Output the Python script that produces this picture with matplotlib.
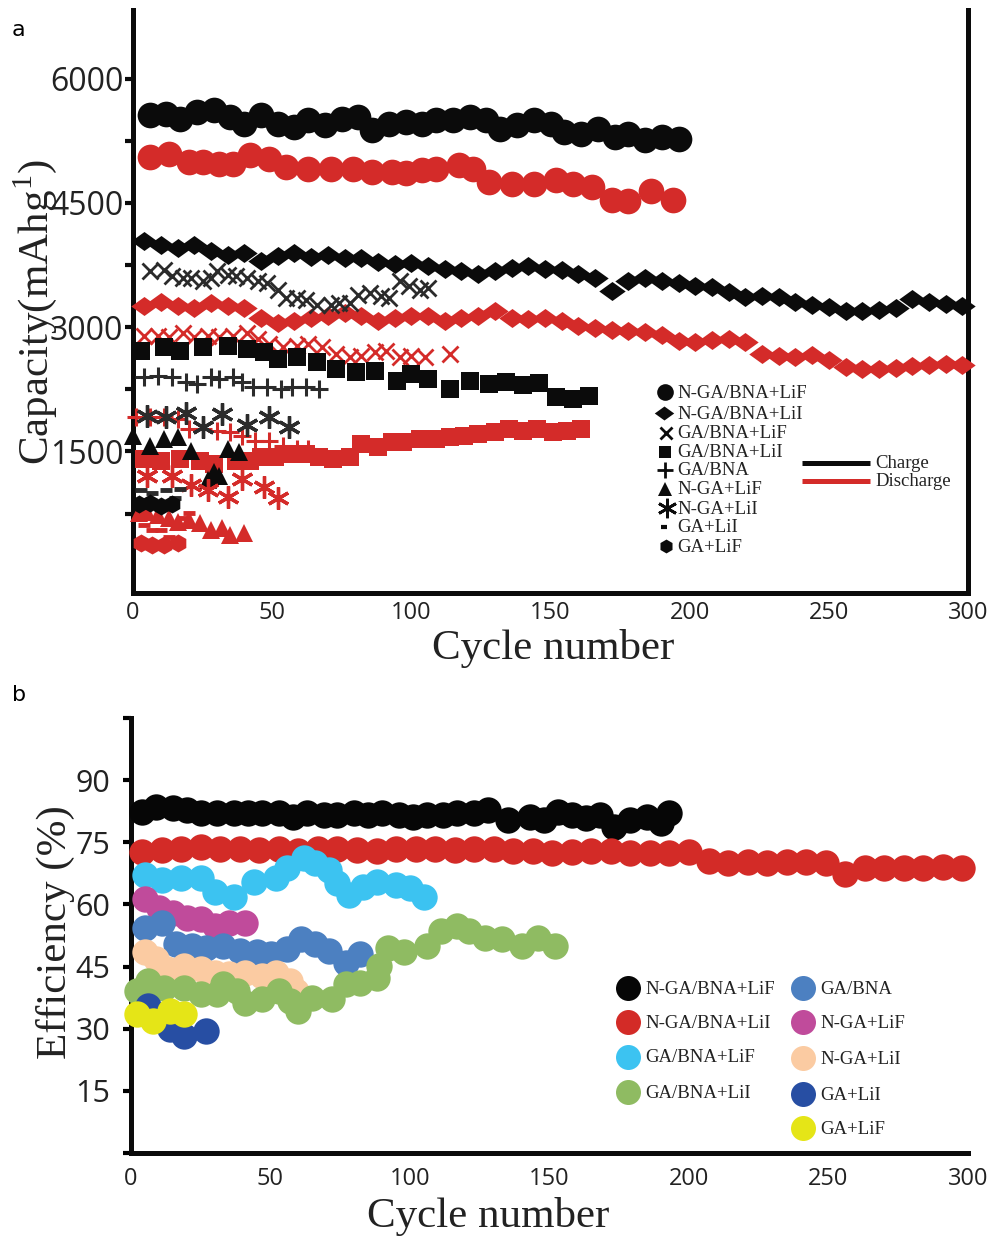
import matplotlib
matplotlib.use("Agg")
import matplotlib.pyplot as plt
from matplotlib.lines import Line2D
from matplotlib.path import Path

plt.rcParams['mathtext.fontset'] = 'custom'
plt.rcParams['mathtext.rm'] = 'Liberation Serif'

# ---------------- Panel a data (capacity, mAh/g) ----------------
circ_c_cyc = [6, 12, 17, 23, 29, 35, 40, 46, 52, 58, 63, 69, 75, 81, 86, 92, 98, 104, 109, 115,
              121, 127, 132, 138, 144, 150, 155, 161, 167, 173, 178, 184, 190, 196]
circ_c_val = [5562, 5574, 5514, 5599, 5623, 5538, 5453, 5562, 5453, 5416, 5501, 5441, 5514, 5538,
              5380, 5453, 5477, 5453, 5501, 5501, 5538, 5501, 5392, 5441, 5501, 5453, 5356, 5331,
              5392, 5295, 5331, 5258, 5295, 5270]
circ_d_cyc = [6, 13, 20, 25, 31, 36, 42, 49, 55, 63, 71, 79, 86, 93, 98, 104, 109, 117, 122, 128,
              136, 144, 152, 158, 165, 172, 178, 186, 194]
circ_d_val = [5052, 5088, 4991, 4991, 4966, 4966, 5076, 5027, 4930, 4906, 4906, 4906, 4869, 4869,
              4857, 4893, 4906, 4954, 4906, 4748, 4723, 4723, 4772, 4723, 4687, 4541, 4529, 4650, 4541]

diam_cyc = [4, 10, 16, 22, 28, 34, 40, 46, 52, 58, 64, 70, 76, 82, 88, 94, 100, 106, 112, 118,
            124, 130, 136, 142, 148, 154, 160, 166, 172, 178, 184, 190, 196, 202, 208, 214, 220,
            226, 232, 238, 244, 250, 256, 262, 268, 274, 280, 286, 292, 298]
diam_c_val = [4040, 3990, 3960, 3990, 3920, 3870, 3900, 3800, 3860, 3890, 3850, 3870, 3830, 3840,
              3790, 3760, 3780, 3740, 3700, 3680, 3640, 3680, 3720, 3740, 3700, 3690, 3640, 3590,
              3440, 3560, 3590, 3560, 3530, 3500, 3480, 3420, 3360, 3380, 3370, 3300, 3270, 3240,
              3190, 3200, 3210, 3230, 3340, 3300, 3280, 3260]
diam_d_val = [3260, 3310, 3250, 3230, 3290, 3250, 3230, 3110, 3050, 3080, 3110, 3140, 3170, 3130,
              3080, 3110, 3130, 3140, 3080, 3110, 3140, 3190, 3110, 3100, 3110, 3080, 3020, 2990,
              2960, 2950, 2940, 2900, 2830, 2820, 2840, 2860, 2820, 2680, 2650, 2640, 2660, 2600,
              2520, 2500, 2490, 2510, 2530, 2540, 2560, 2540]

x_c_cyc = [6, 11, 14, 18, 21, 25, 28, 30, 34, 37, 41, 45, 48, 52, 55, 59, 62, 66, 71, 74, 78, 81,
           85, 89, 92, 96, 99, 103, 106]
x_c_val = [3677, 3690, 3617, 3592, 3592, 3556, 3592, 3677, 3629, 3617, 3592, 3556, 3532, 3446,
           3349, 3349, 3325, 3264, 3264, 3288, 3288, 3386, 3410, 3373, 3349, 3556, 3495, 3446, 3471]
x_d_cyc = [4, 9, 13, 18, 22, 27, 31, 36, 41, 45, 49, 54, 59, 63, 68, 73, 78, 82, 87, 91, 96, 100,
           105, 114]
x_d_val = [2899, 2899, 2887, 2924, 2880, 2899, 2887, 2899, 2924, 2863, 2802, 2765, 2778, 2802,
           2765, 2680, 2644, 2656, 2705, 2717, 2644, 2656, 2644, 2680]

sq_c_cyc = [3, 11, 17, 25, 34, 41, 47, 52, 59, 66, 73, 80, 87, 95, 100, 106, 114, 121, 128, 134,
            140, 146, 152, 158, 164]
sq_c_val = [2717, 2766, 2717, 2766, 2778, 2741, 2705, 2620, 2644, 2583, 2498, 2461, 2474, 2352,
            2437, 2376, 2255, 2352, 2316, 2340, 2303, 2328, 2158, 2133, 2170]
sq_d_cyc = [4, 10, 17, 24, 29, 37, 42, 46, 51, 56, 62, 67, 72, 78, 82, 88, 93, 97, 103, 109, 114,
            119, 124, 130, 135, 140, 145, 151, 156, 161]
sq_d_val = [1404, 1379, 1404, 1379, 1343, 1379, 1379, 1428, 1428, 1464, 1464, 1428, 1404, 1428,
            1586, 1550, 1610, 1610, 1647, 1647, 1671, 1683, 1708, 1732, 1768, 1744, 1768, 1732,
            1744, 1768]

p_c_cyc = [4, 9, 14, 19, 23, 28, 31, 36, 39, 43, 48, 53, 57, 62, 67]
p_c_val = [2401, 2413, 2401, 2340, 2316, 2401, 2376, 2401, 2340, 2279, 2279, 2255, 2279, 2279, 2255]
p_d_cyc = [1, 6, 11, 16, 20, 25, 30, 35, 39, 44, 49, 54, 59, 63]
p_d_val = [1914, 1914, 1914, 1890, 1768, 1768, 1744, 1732, 1683, 1622, 1622, 1562, 1525, 1525]

t_c_cyc = [0, 6, 11, 16, 21, 27, 29, 31, 34, 38]
t_c_val = [1680, 1560, 1650, 1670, 1500, 1160, 1250, 1200, 1525, 1490]
t_d_cyc = [2, 5, 9, 13, 16, 20, 24, 28, 32, 35, 40]
t_d_val = [759, 771, 735, 698, 650, 674, 637, 552, 577, 491, 516]

ast_c_cyc = [5, 12, 19, 25, 32, 41, 49, 56]
ast_c_val = [1926, 1914, 1963, 1793, 1951, 1817, 1914, 1793]
ast_d_cyc = [5, 14, 21, 27, 34, 39, 47, 52]
ast_d_val = [1197, 1197, 1100, 1039, 954, 1161, 1075, 942]

dash_c_cyc = [3, 7, 12, 15, 17]
dash_c_val = [1039, 1002, 1039, 942, 1051]
dash_d_cyc = [4, 7, 10, 13, 18, 20]
dash_d_val = [613, 552, 552, 467, 698, 759]

hex_c_cyc = [2, 6, 10, 14]
hex_c_val = [870, 880, 840, 860]
hex_d_cyc = [3, 7, 11, 16]
hex_d_val = [394, 370, 370, 394]

a_labels = ["N-GA/BNA+LiF", "N-GA/BNA+LiI", "GA/BNA+LiF", "GA/BNA+LiI", "GA/BNA",
            "N-GA+LiF", "N-GA+LiI", "GA+LiI", "GA+LiF"]
a_yticks = [1500, 3000, 4500, 6000]
a_minor = [750, 2250, 3750, 5250]
x_ticks = [0, 50, 100, 150, 200, 250, 300]

# ---------------- Panel b data (efficiency, %) ----------------
b_labels = ["N-GA/BNA+LiF", "N-GA/BNA+LiI", "GA/BNA+LiF", "GA/BNA+LiI", "GA/BNA",
            "N-GA+LiF", "N-GA+LiI", "GA+LiI", "GA+LiF"]
b_colors = ["#060606", "#d32b27", "#3cc3f1", "#8fbb62", "#4c80c1",
            "#c04b9b", "#fbcba2", "#274ea3", "#e5e517"]

b_black_cyc = [4, 9, 15, 20, 25, 31, 37, 42, 47, 53, 58, 63, 69, 74, 80, 85, 90, 96, 101, 106,
               112, 117, 123, 128, 135, 143, 148, 153, 158, 163, 168, 173, 179, 185, 190, 193]
b_black_val = [82.3, 83.5, 83.2, 82.7, 82.0, 82.0, 82.0, 82.0, 82.0, 82.0, 81.0, 82.0, 81.5, 81.5,
               82.0, 81.5, 82.0, 81.5, 81.0, 81.5, 81.5, 82.0, 82.0, 82.7, 80.3, 81.0, 80.3, 82.3,
               81.5, 80.8, 81.5, 78.6, 80.3, 81.0, 79.6, 82.0]
b_red_cyc = [4, 11, 18, 25, 32, 39, 46, 53, 60, 67, 74, 81, 88, 95, 102, 109, 116, 123, 130, 137,
             144, 151, 158, 165, 172, 179, 186, 193, 200, 207, 214, 221, 228, 235, 242, 249, 256,
             263, 270, 277, 284, 291, 298]
b_red_val = [72.6, 73.2, 73.5, 73.8, 73.5, 73.3, 73.2, 73.3, 73.0, 73.4, 73.5, 73.2, 73.0, 73.4,
             73.5, 73.3, 73.2, 73.4, 73.5, 73.0, 72.8, 72.5, 72.6, 73.0, 72.8, 72.4, 72.4, 72.5,
             72.6, 70.5, 70.0, 70.3, 70.0, 70.2, 70.3, 70.0, 67.3, 68.8, 68.8, 68.9, 68.8, 69.0, 68.8]
b_lb_cyc = [5, 11, 18, 25, 30, 37, 44, 52, 56, 62, 66, 71, 74, 78, 83, 88, 95, 100, 105]
b_lb_val = [67.0, 65.8, 66.3, 66.3, 62.9, 61.7, 65.3, 66.3, 68.9, 71.1, 69.9, 68.2, 65.1, 62.2,
            64.1, 65.3, 64.6, 63.9, 61.7]
b_gr_cyc = [2, 6, 12, 19, 25, 31, 33, 38, 41, 47, 53, 57, 60, 65, 72, 77, 82, 88, 89, 92, 98, 106,
            111, 117, 121, 127, 133, 140, 146, 152]
b_gr_val = [39.2, 41.6, 39.9, 39.9, 38.4, 38.4, 40.8, 39.2, 36.2, 37.2, 39.2, 36.7, 34.3, 37.5,
            37.2, 40.8, 41.0, 42.3, 45.2, 49.6, 48.4, 50.0, 53.7, 54.9, 53.7, 52.0, 51.7, 50.0,
            52.0, 50.0]
b_mb_cyc = [5, 11, 16, 22, 27, 33, 39, 45, 50, 56, 61, 66, 71, 77, 82]
b_mb_val = [54.4, 55.4, 50.5, 50.0, 49.6, 50.0, 48.8, 48.4, 48.1, 49.3, 51.7, 50.5, 48.8, 45.9, 48.1]
b_mg_cyc = [5, 10, 15, 20, 25, 30, 35, 41]
b_mg_val = [61.4, 59.2, 58.0, 56.8, 56.6, 54.9, 55.6, 55.6]
b_pc_cyc = [5, 9, 13, 19, 25, 30, 35, 41, 47, 52, 57, 59]
b_pc_val = [48.4, 46.9, 44.5, 45.2, 44.5, 43.5, 43.3, 43.5, 42.8, 43.5, 41.6, 39.2]
b_db_cyc = [6, 14, 19, 27]
b_db_val = [35.5, 30.0, 28.3, 29.5]
b_yl_cyc = [2, 8, 14, 19]
b_yl_val = [33.6, 31.9, 34.3, 33.6]
b_yticks = [0, 15, 30, 45, 60, 75, 90, 105]
b_yticklabels = ["", "15", "30", "45", "60", "75", "90", ""]

# ---------------- styles ----------------
BLACK = "#0b0b0b"
RED = "#d42b29"
GRAY = "#2b2b2b"
SERIF = "Liberation Serif"
SANS = "Open Sans"

flat_diamond = Path([(-1, 0), (0, 0.72), (1, 0), (0, -0.72), (-1, 0)],
                    [Path.MOVETO, Path.LINETO, Path.LINETO, Path.LINETO, Path.CLOSEPOLY])
asterisk = (6, 2, 0)

W, H = 989, 1236
fig = plt.figure(figsize=(W / 100, H / 100), dpi=100)


def fpos(x, y):
    return x / W, 1 - y / H


# ---------------- Panel a ----------------
ax = fig.add_axes([133 / W, 1 - 593 / H, (968 - 133) / W, (593 - 10) / H])
ax.set_xlim(0, 300)
ax.set_ylim(-210, 6830)


def mk(axis, xs, ys, color, marker, ms, mew=0, z=3, fill=True):
    if fill:
        axis.plot(xs, ys, ls='none', marker=marker, ms=ms, color=color, mec=color,
                  mew=mew, zorder=z, clip_on=False)
    else:
        axis.plot(xs, ys, ls='none', marker=marker, ms=ms, color=color, mew=mew,
                  zorder=z, clip_on=False)


mk(ax, circ_c_cyc, circ_c_val, BLACK, 'o', 18.5)
mk(ax, circ_d_cyc, circ_d_val, RED, 'o', 18.5)
mk(ax, diam_cyc, diam_c_val, BLACK, flat_diamond, 19)
mk(ax, diam_cyc, diam_d_val, RED, flat_diamond, 19)
mk(ax, x_c_cyc, x_c_val, GRAY, 'x', 12, mew=2.0, fill=False)
mk(ax, x_d_cyc, x_d_val, RED, 'x', 12, mew=2.0, fill=False)
mk(ax, sq_c_cyc, sq_c_val, BLACK, 's', 13)
mk(ax, sq_d_cyc, sq_d_val, RED, 's', 13)
mk(ax, p_c_cyc, p_c_val, GRAY, '+', 13, mew=2.2, fill=False)
mk(ax, p_d_cyc, p_d_val, RED, '+', 13, mew=2.2, fill=False)
mk(ax, t_c_cyc, t_c_val, BLACK, '^', 12.5)
mk(ax, t_d_cyc, t_d_val, RED, '^', 12.5)
mk(ax, ast_c_cyc, ast_c_val, GRAY, asterisk, 16, mew=2.4, fill=False)
mk(ax, ast_d_cyc, ast_d_val, RED, asterisk, 16, mew=2.4, fill=False)
mk(ax, dash_c_cyc, dash_c_val, GRAY, '_', 8, mew=3.5, fill=False)
mk(ax, dash_d_cyc, dash_d_val, RED, '_', 8, mew=3.5, fill=False)
mk(ax, hex_c_cyc, hex_c_val, BLACK, 'h', 13)
mk(ax, hex_d_cyc, hex_d_val, RED, 'h', 13)

for s in ['left', 'bottom', 'right']:
    ax.spines[s].set_linewidth(3.6)
    ax.spines[s].set_color(BLACK)
ax.spines['top'].set_visible(False)
ax.set_yticks(a_yticks)
ax.set_yticklabels([str(v) for v in a_yticks])
ax.set_yticks(a_minor, minor=True)
ax.set_xticks(x_ticks)
ax.set_xticklabels([str(v) for v in x_ticks])
ax.tick_params(axis='y', which='both', direction='out', length=6, width=3, pad=1,
               labelsize=23, colors=BLACK)
ax.tick_params(axis='x', direction='out', length=0, pad=6, labelsize=17, colors=BLACK)
for lab in ax.get_yticklabels() + ax.get_xticklabels():
    lab.set_fontfamily(SANS)
    lab.set_color('#222222')

fig.text(*fpos(35, 312), "Capacity(mAhg$^{\\mathrm{1}}$)", rotation=90, ha='center',
         va='center', fontsize=31, family=SERIF, color='#222222')
fig.text(*fpos(553, 648), "Cycle number", ha='center', va='center', fontsize=31,
         family=SERIF, color='#222222')
fig.text(*fpos(12, 30), "a", ha='left', va='center', fontsize=16, family='DejaVu Sans')

# legend a (symbols)
leg_a = [('o', 12, 0, 665), (flat_diamond, 14, 0, 664), ('x', 8, 2.0, 666), ('s', 9, 0, 665),
         ('+', 12, 2.0, 665), ('^', 10, 0, 665), (asterisk, 14, 2.0, 667), ('_', 5, 3.0, 664),
         ('h', 10, 0, 666)]
rows_a = [392, 413, 433, 452, 470, 489, 508, 527, 546]
for (m, ms, mew, xm), y, lab in zip(leg_a, rows_a, a_labels):
    fig.add_artist(Line2D([xm / W], [1 - y / H], transform=fig.transFigure, ls='none',
                          marker=m, ms=ms, mew=mew, color=BLACK, mec=BLACK))
    fig.text(*fpos(677, y + 1), lab, ha='left', va='center', fontsize=13.5, family=SERIF,
             color='#222222')
for y, c, lab in [(463, BLACK, "Charge"), (481, RED, "Discharge")]:
    fig.add_artist(Line2D([802 / W, 870 / W], [1 - y / H, 1 - y / H], transform=fig.transFigure,
                          color=c, lw=3.6, solid_capstyle='butt'))
    fig.text(*fpos(875, y), lab, ha='left', va='center', fontsize=13.5, family=SERIF,
             color='#222222')

# ---------------- Panel b ----------------
bx = fig.add_axes([131 / W, 1 - 1153 / H, (968 - 131) / W, (1153 - 718) / H])
bx.set_xlim(0, 300)
bx.set_ylim(0, 105)
MSB = 19
series_b = [(b_black_cyc, b_black_val, b_colors[0]), (b_red_cyc, b_red_val, b_colors[1]),
            (b_lb_cyc, b_lb_val, b_colors[2]), (b_mg_cyc, b_mg_val, b_colors[5]),
            (b_mb_cyc, b_mb_val, b_colors[4]), (b_pc_cyc, b_pc_val, b_colors[6]),
            (b_gr_cyc, b_gr_val, b_colors[3]), (b_db_cyc, b_db_val, b_colors[7]),
            (b_yl_cyc, b_yl_val, b_colors[8])]
for i, (xs, ys, c) in enumerate(series_b):
    bx.plot(xs, ys, ls='none', marker='o', ms=MSB, color=c, mec=c, mew=0, zorder=3 + i,
            clip_on=False)

for s in ['left', 'bottom']:
    bx.spines[s].set_linewidth(3.6)
    bx.spines[s].set_color(BLACK)
bx.spines['top'].set_visible(False)
bx.spines['right'].set_visible(False)
bx.set_yticks(b_yticks)
bx.set_yticklabels(b_yticklabels)
bx.set_xticks(x_ticks)
bx.set_xticklabels([str(v) for v in x_ticks])
bx.tick_params(axis='y', direction='out', length=6, width=3, pad=9, labelsize=22)
bx.tick_params(axis='x', direction='out', length=0, pad=10, labelsize=17)
for lab in bx.get_yticklabels() + bx.get_xticklabels():
    lab.set_fontfamily(SANS)
    lab.set_color('#222222')

fig.text(*fpos(55, 932), "Efficiency (%)", rotation=90, ha='center', va='center',
         fontsize=31, family=SERIF, color='#222222')
fig.text(*fpos(488, 1216), "Cycle number", ha='center', va='center', fontsize=31,
         family=SERIF, color='#222222')
fig.text(*fpos(12, 695), "b", ha='left', va='center', fontsize=16, family='DejaVu Sans')

# legend b
col1 = [(0, 988), (1, 1022), (2, 1057), (3, 1092)]
col2 = [(4, 988), (5, 1022), (6, 1058), (7, 1094), (8, 1128)]
for entries, xm, xt in [(col1, 628, 645), (col2, 803, 820)]:
    for idx, y in entries:
        fig.add_artist(Line2D([xm / W], [1 - y / H], transform=fig.transFigure, ls='none',
                              marker='o', ms=18, mew=0, color=b_colors[idx]))
        fig.text(*fpos(xt, y + 1), b_labels[idx], ha='left', va='center', fontsize=13.5,
                 family=SERIF, color='#222222')

fig.savefig("out.png", dpi=100)
